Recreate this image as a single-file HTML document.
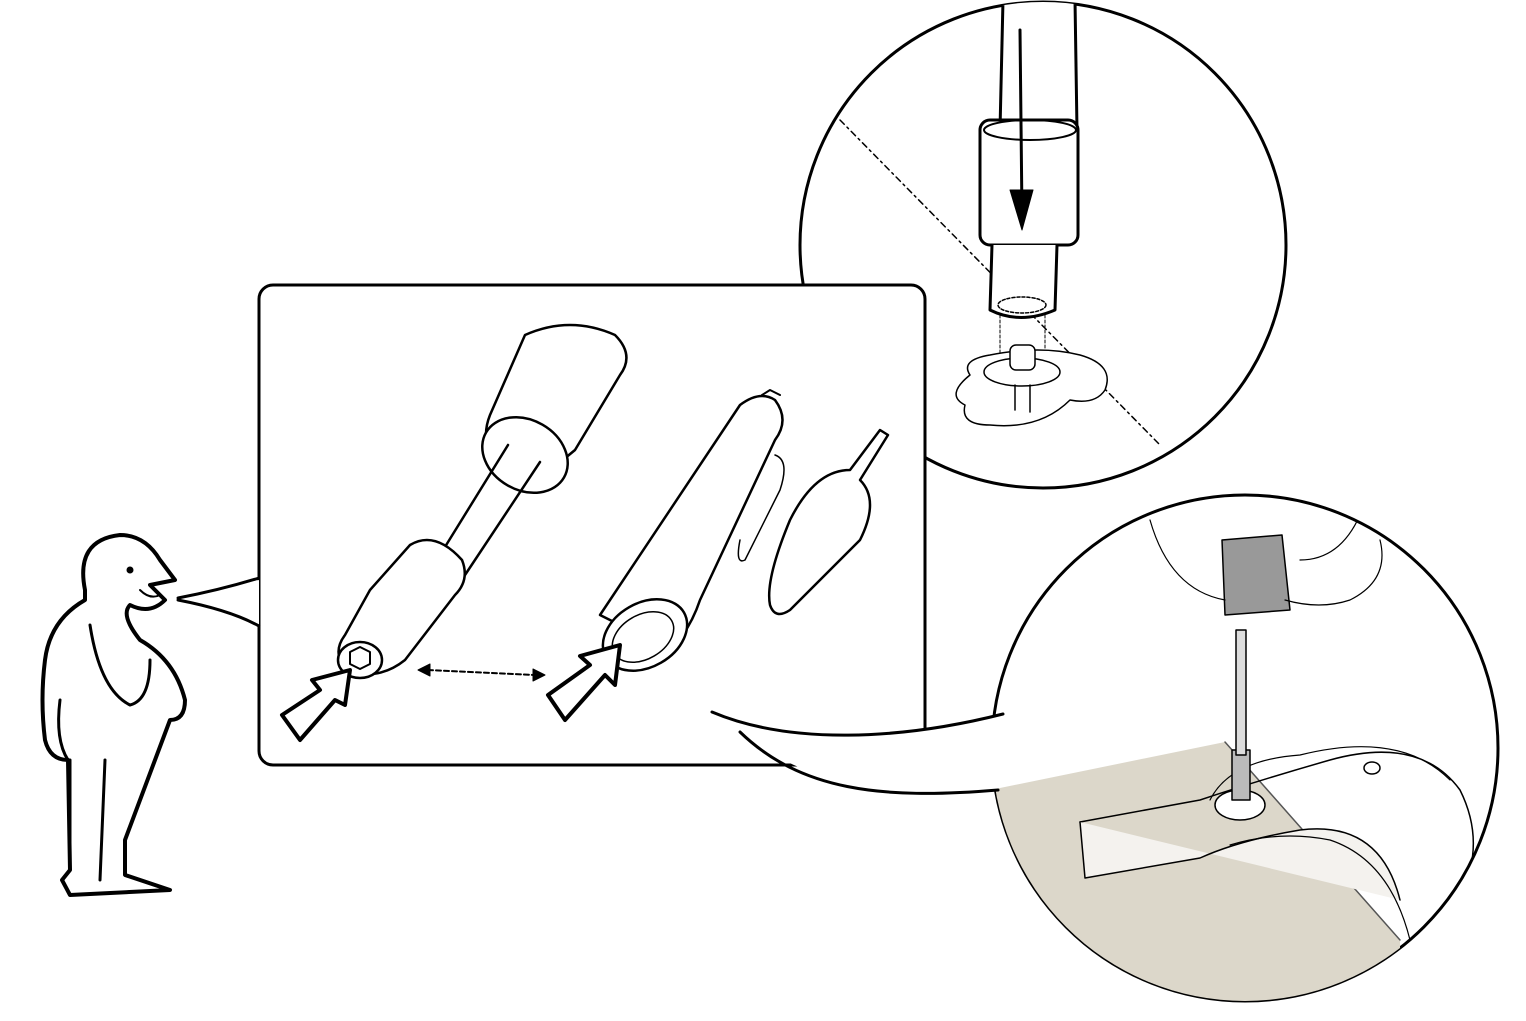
<!DOCTYPE html>
<html><head><meta charset="utf-8"><style>
html,body{margin:0;padding:0;background:#fff;}
svg{display:block;}
</style></head><body>
<svg width="1526" height="1021" viewBox="0 0 1526 1021" xmlns="http://www.w3.org/2000/svg" fill="none" stroke="#000" stroke-linecap="round" stroke-linejoin="round">
<defs>
<clipPath id="c2"><circle cx="1245" cy="748" r="253"/></clipPath>
<clipPath id="c1"><circle cx="1043" cy="245" r="243"/></clipPath>
</defs>

<!-- top circle -->
<circle cx="1043" cy="245" r="243" fill="#fff" stroke-width="3"/>
<g clip-path="url(#c1)">
 <path d="M840 120 L1160 445" stroke-width="1.5" stroke-dasharray="6,4,2,4"/>
 <path d="M1003 0 L1075 0 L1077 130 L1000 130 Z" fill="#fff" stroke-width="3"/>
 <path d="M1003 125 L1060 145" stroke-width="2"/>
 <rect x="980" y="120" width="98" height="125" rx="10" fill="#fff" stroke-width="3"/>
 <ellipse cx="1030" cy="130" rx="46" ry="10" stroke-width="2"/>
 <path d="M992 245 L990 310 Q1020 325 1055 310 L1057 245" fill="#fff" stroke-width="3"/>
 <ellipse cx="1022" cy="305" rx="24" ry="8" stroke-width="1.5" stroke-dasharray="3,2"/>
 <path d="M1020 30 L1022 215" stroke-width="3"/>
 <path d="M1010 190 L1022 230 L1033 190 Z" fill="#000" stroke-width="1"/>
 <path d="M1000 315 L1000 370 M1045 315 L1045 370" stroke-width="1" stroke-dasharray="3,2"/>
 <path d="M970 375 Q960 360 990 355 Q1040 345 1080 355 Q1115 365 1105 390 Q1095 405 1070 400 Q1040 430 990 425 Q960 425 965 405 Q945 395 970 375 Z" stroke-width="1.5" fill="#fff"/>
 <ellipse cx="1022" cy="372" rx="38" ry="14" stroke-width="1.5"/>
 <rect x="1010" y="345" width="25" height="25" rx="6" fill="#fff" stroke-width="1.5"/>
 <path d="M1015 385 L1015 410 M1030 385 L1030 412" stroke-width="1.5"/>
</g>

<!-- bottom circle -->
<circle cx="1245" cy="748" r="253" fill="#fff" stroke-width="3"/>
<g clip-path="url(#c2)">
 <path d="M990 790 L1225 742 L1400 940 L1400 1010 L990 1010 Z" fill="#dcd7ca" stroke="none"/>
 <path d="M1225 742 L1400 940" stroke-width="1.5" stroke="#555"/>
 <path d="M1080 822 L1200 800 Q1260 780 1330 760 Q1420 735 1460 790 Q1480 830 1470 870" stroke-width="1.5"/>
 <path d="M1080 822 L1085 878 L1200 858 Q1240 840 1300 830 Q1380 820 1400 900" stroke-width="1.5" fill="#f4f2ee"/>
 <path d="M1210 800 Q1230 760 1300 755 Q1400 730 1450 780" stroke-width="1.2"/>
 <path d="M1230 845 Q1280 830 1330 840 Q1390 860 1410 940" stroke-width="1.2"/>
 <ellipse cx="1240" cy="805" rx="25" ry="15" stroke-width="1.5" fill="#fff"/>
 <rect x="1232" y="750" width="18" height="50" fill="#bbb" stroke-width="1.5"/>
 <rect x="1236" y="630" width="10" height="125" fill="#ddd" stroke-width="1.5"/>
 <path d="M1222 540 L1282 535 L1290 610 L1225 615 Z" fill="#999" stroke-width="1.5"/>
 <path d="M1150 520 Q1170 590 1225 600 M1285 600 Q1320 610 1350 600 Q1390 580 1380 540 M1360 515 Q1340 560 1300 560" stroke-width="1.2"/>
 <ellipse cx="1372" cy="768" rx="8" ry="6" stroke-width="1.5"/>
</g>

<!-- main panel -->
<rect x="259" y="285" width="666" height="480" rx="14" fill="#fff" stroke-width="3"/>

<!-- tail from panel to bottom circle -->
<path d="M712 712 C790 745 900 740 1003 714 L998 790 C880 800 800 780 740 732 Z" fill="#fff" stroke="none"/>
<path d="M712 712 C790 745 900 740 1003 714" stroke-width="3"/>
<path d="M740 732 C800 790 880 800 998 790" stroke-width="3"/>

<!-- tool -->
<path d="M525 335 Q570 315 615 335 Q635 355 620 375 L575 450 Q540 480 520 475 L505 470 L495 460 Q480 440 490 415 Z" fill="#fff" stroke-width="2.5"/>
<ellipse cx="525" cy="455" rx="45" ry="35" transform="rotate(30 525 455)" fill="#fff" stroke-width="2.5"/>
<path d="M508 445 L440 555 M540 462 L465 575" stroke-width="2.5"/>
<path d="M410 545 Q435 530 462 560 Q470 580 455 595 L405 660 Q380 680 350 672 Q330 655 345 635 L370 590 Z" fill="#fff" stroke-width="2.5"/>
<ellipse cx="360" cy="660" rx="22" ry="18" fill="#fff" stroke-width="2.5"/>
<path d="M350 652 l10 -5 l10 5 l0 12 l-10 5 l-10 -5 Z" stroke-width="2"/>

<!-- pen -->
<path d="M600 615 L740 405 Q760 390 775 400 Q790 420 775 440 L700 600 Q690 630 670 650 Z" fill="#fff" stroke-width="2.5"/>
<ellipse cx="645" cy="635" rx="45" ry="32" transform="rotate(-30 645 635)" fill="#fff" stroke-width="2.5"/>
<ellipse cx="643" cy="637" rx="33" ry="22" transform="rotate(-30 643 637)" stroke-width="1.5"/>
<path d="M762 395 L770 390 L780 395" stroke-width="2"/>
<path d="M775 455 Q790 460 780 490 L745 560 Q735 565 740 540" stroke-width="1.5"/>
<!-- refill -->
<path d="M880 430 L888 435 L860 480 Q880 500 860 540 L790 610 Q775 620 770 605 Q765 580 790 520 Q815 470 850 470 Z" fill="#fff" stroke-width="2.5"/>

<!-- arrows -->
<path d="M282 715 L320 690 L312 680 L350 670 L345 705 L335 700 L300 740 Z" fill="#fff" stroke-width="4"/>
<path d="M548 695 L590 665 L580 656 L620 645 L615 685 L605 675 L565 720 Z" fill="#fff" stroke-width="4"/>
<path d="M428 670 L535 675" stroke-width="2" stroke-dasharray="5,3"/>
<path d="M418 670 l12 -6 l0 12 Z M545 675 l-12 -6 l0 12 Z" fill="#000" stroke-width="1"/>

<!-- speech tail to man -->
<path d="M259 580 Q215 590 175 600 Q215 605 259 625" fill="#fff" stroke="none"/>
<path d="M259 578 Q220 590 178 598" stroke-width="3"/>
<path d="M178 600 Q230 610 259 626" stroke-width="3"/>

<!-- man -->
<path d="M85 590 Q75 540 120 535 Q145 535 160 560 L175 580 L150 585 L165 600 Q150 615 130 605 Q120 615 140 640 Q175 660 185 700 Q185 720 170 720 L125 840 L125 875 L170 890 L70 895 L62 880 L70 870 L68 760 Q50 760 45 740 Q40 700 45 660 Q50 620 85 600 Z" fill="#fff" stroke-width="4"/>
<path d="M90 625 Q100 690 130 705 Q150 700 150 660" stroke-width="3"/>
<path d="M70 870 L70 760 M105 760 L100 880" stroke-width="3"/>
<path d="M60 700 Q55 740 68 760" stroke-width="3"/>
<circle cx="130" cy="570" r="3" fill="#000"/>
<path d="M140 590 Q150 600 160 595" stroke-width="2"/>
</svg>
</body></html>
